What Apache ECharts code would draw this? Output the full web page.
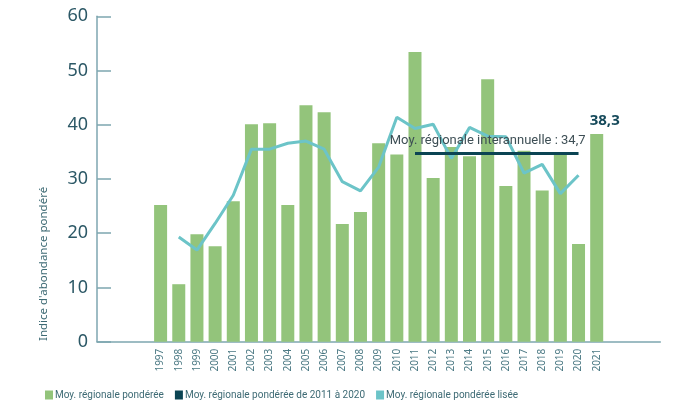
<!DOCTYPE html>
<html><head><meta charset="utf-8">
<script src="https://cdn.jsdelivr.net/npm/echarts@6/dist/echarts.min.js"></script>
<style>html,body{margin:0;padding:0;background:#fff}#c{width:681px;height:401px}</style>
</head><body><div id="c"></div>
<script>
var years = ['1997','1998','1999','2000','2001','2002','2003','2004','2005','2006','2007','2008','2009','2010','2011','2012','2013','2014','2015','2016','2017','2018','2019','2020','2021'];
var padBefore = ['', '', ''];
var padAfter = ['', '', ''];
var ponderee = [25.2,10.6,19.8,17.6,25.9,40.1,40.3,25.2,43.6,42.3,21.7,23.9,36.6,34.5,53.4,30.2,35.9,34.2,48.4,28.7,35.2,27.9,34.5,18.0,38.3];
var lisee = [null,19.3,16.9,21.8,27.0,35.5,35.5,36.6,37.0,35.5,29.5,27.8,32.2,41.4,39.3,40.1,33.8,39.5,37.9,37.8,31.1,32.7,27.3,30.7,null];
var moyenne = 34.7;
var moyStart = '2011', moyEnd = '2020';
var yTicks = [0,10,20,30,40,50,60];
var lastLabel = '38,3';
var moyLabel = 'Moy. régionale interannuelle : 34,7';
var names = ['Moy. régionale pondérée','Moy. régionale pondérée de 2011 à 2020','Moy. régionale pondérée lisée'];

var cats = padBefore.concat(years, padAfter);
function pad(arr){ return padBefore.map(function(){return null;}).concat(arr, padAfter.map(function(){return null;})); }
var barData = pad(ponderee).map(function(v,i){
  if (cats[i] === '2021') return {value:v, label:{show:true, position:'top', formatter:lastLabel, offset:[8,-1], fontSize:15, fontWeight:'bold', color:'#15495a', fontFamily:'Noto Sans'}};
  return v;
});
var moyData = cats.map(function(c){ return (c !== '' && c >= moyStart && c <= moyEnd) ? moyenne : null; });
moyData = moyData.map(function(v,i){
  if (cats[i] === moyEnd) return {value:v, label:{show:true, position:'top', align:'right', formatter:moyLabel, offset:[7,-1], fontSize:13, color:'#3e4f55', fontFamily:'Roboto'}};
  return v;
});

var chart = echarts.init(document.getElementById('c'), null, {renderer:'canvas'});
chart.setOption({
  animation:false,
  textStyle:{fontFamily:'Noto Sans'},
  grid:{left:97, top:16.3, width:563.3, height:325.4, containLabel:false},
  xAxis:{type:'category', data:cats, boundaryGap:true,
    axisLine:{lineStyle:{color:'#7ea6b0', width:1.5}},
    axisTick:{show:false},
    axisLabel:{interval:0, rotate:90, fontSize:10, color:'#4a7883', margin:7}},
  yAxis:{type:'value', min:yTicks[0], max:yTicks[yTicks.length-1], interval:10,
    axisLine:{show:true, lineStyle:{color:'#7ea6b0', width:1.5}},
    axisTick:{show:true, inside:true, length:14, lineStyle:{color:'#7ea6b0', width:1.5}},
    splitLine:{show:false},
    axisLabel:{fontSize:18, color:'#2c5866', margin:9}},
  legend:{left:40, top:385, itemWidth:8, itemHeight:9, itemGap:11, icon:'rect',
    textStyle:{fontSize:10, color:'#3d6a74', padding:[0,0,0,-3], fontFamily:'Roboto'},
    data:names},
  graphic:[{type:'text', x:44, y:341, rotation:Math.PI/2,
    style:{text:"Indice d'abondance pondéré", fontSize:11.5, fill:'#3d6a74', fontFamily:'Noto Sans', textAlign:'left', textVerticalAlign:'middle'}}],
  series:[
    {name:names[0], type:'bar', data:barData, barWidth:13, itemStyle:{color:'#93c47b'}, z:1},
    {name:names[2], type:'line', data:pad(lisee), showSymbol:false, symbol:'none', lineStyle:{color:'#6cc4c8', width:3}, itemStyle:{color:'#6cc4c8'}, z:2},
    {name:names[1], type:'line', data:moyData, showSymbol:true, symbol:'circle', symbolSize:0, lineStyle:{color:'#0b4453', width:3}, itemStyle:{color:'#0b4453'}, z:3}
  ]
});
</script></body></html>
